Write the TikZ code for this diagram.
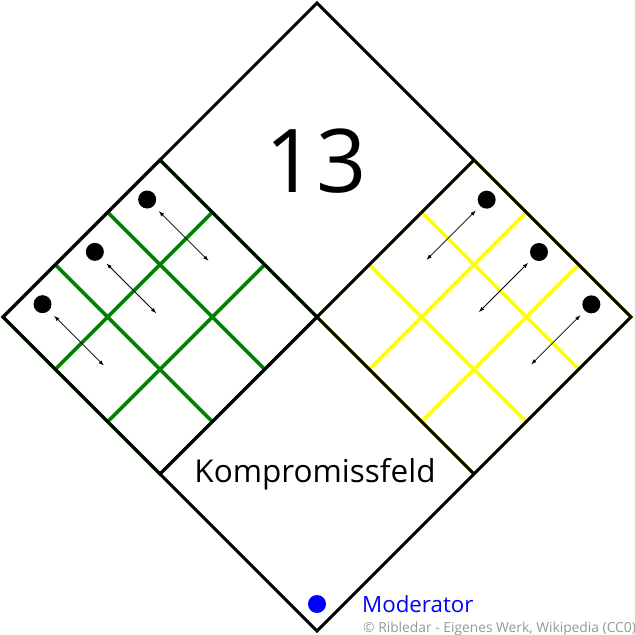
\documentclass[tikz,border=0pt]{standalone}
\usepackage{fontspec}
\setmainfont{Open Sans}
\usetikzlibrary{calc}
\definecolor{gridgreen}{RGB}{0,128,0}
\definecolor{gridyellow}{RGB}{255,255,0}
\definecolor{notegray}{RGB}{150,150,150}
\tikzset{
  edge/.style={line width=3pt, line join=miter},
  gridline/.style={line width=3.5pt},
  token/.style={fill=black},
  shift arrow/.style={latex-latex, line width=0.8pt}
}
\begin{document}
\begin{tikzpicture}[x=1pt, y=-1pt]
	\useasboundingbox (0,0) rectangle (635,635);

	\coordinate (N) at (317,3);
	\coordinate (W) at (3,317);
	\coordinate (E) at (631,317);
	\coordinate (S) at (317,631);
	\coordinate (M) at (317,317);
	\coordinate (NW) at ($(N)!0.5!(W)$);
	\coordinate (NE) at ($(N)!0.5!(E)$);
	\coordinate (SW) at ($(S)!0.5!(W)$);
	\coordinate (SE) at ($(S)!0.5!(E)$);

	% left field, green grid
	\begin{scope}[shift={(W)}, x={(157pt,157pt)}, y={(157pt,-157pt)}]
		\draw [gridgreen, gridline] (0,0) -- (1,0) -- (1,1) -- (0,1) -- cycle;
		\foreach \i in {1/3,2/3} {
			\draw [gridgreen, gridline] (\i,0) -- (\i,1);
			\draw [gridgreen, gridline] (0,\i) -- (1,\i);
		}
		\foreach \u [count=\k] in {1/6,1/2,5/6} {
			\coordinate (ldot\k) at (\u,0.085);
			\coordinate (lfrom\k) at (\u,0.16);
			\coordinate (lto\k) at (\u,0.475);
			\fill [token] (ldot\k) circle (9pt);
			\draw [shift arrow] (lfrom\k) -- (lto\k);
		}
	\end{scope}

	% right field, yellow grid
	\begin{scope}[shift={(M)}, x={(157pt,157pt)}, y={(157pt,-157pt)}]
		\draw [gridyellow, gridline] (0,0) -- (1,0) -- (1,1) -- (0,1) -- cycle;
		\foreach \i in {1/3,2/3} {
			\draw [gridyellow, gridline] (\i,0) -- (\i,1);
			\draw [gridyellow, gridline] (0,\i) -- (1,\i);
		}
		\foreach \v [count=\k] in {1/6,1/2,5/6} {
			\coordinate (rdot\k) at (0.914,\v);
			\coordinate (rfrom\k) at (0.844,\v);
			\coordinate (rto\k) at (0.532,\v);
			\fill [token] (rdot\k) circle (9pt);
			\draw [shift arrow] (rfrom\k) -- (rto\k);
		}
	\end{scope}

	% diamond and its four fields
	\draw [edge] (N) -- (E) -- (S) -- (W) -- cycle;
	\draw [edge] (NW) -- (SE);
	\draw [edge] (NE) -- (SW);

	\node (score) at (316,161) {\fontsize{88}{100}\selectfont 13};
	\node [anchor=base] (field) at (315,482) {\fontsize{31.5}{36}\selectfont Kompromissfeld};

	\coordinate (mod) at (317,604);
	\fill [blue] (mod) circle (9pt);
	\node [anchor=base west, blue, inner sep=0pt] (modlabel) at (362,612) {\fontsize{22.3}{26}\selectfont Moderator};
	\node [anchor=base west, notegray, inner sep=0pt] (credit) at (363,632) {\fontsize{13.8}{16}\selectfont © Ribledar - Eigenes Werk, Wikipedia (CC0)};

\end{tikzpicture}
\end{document}
